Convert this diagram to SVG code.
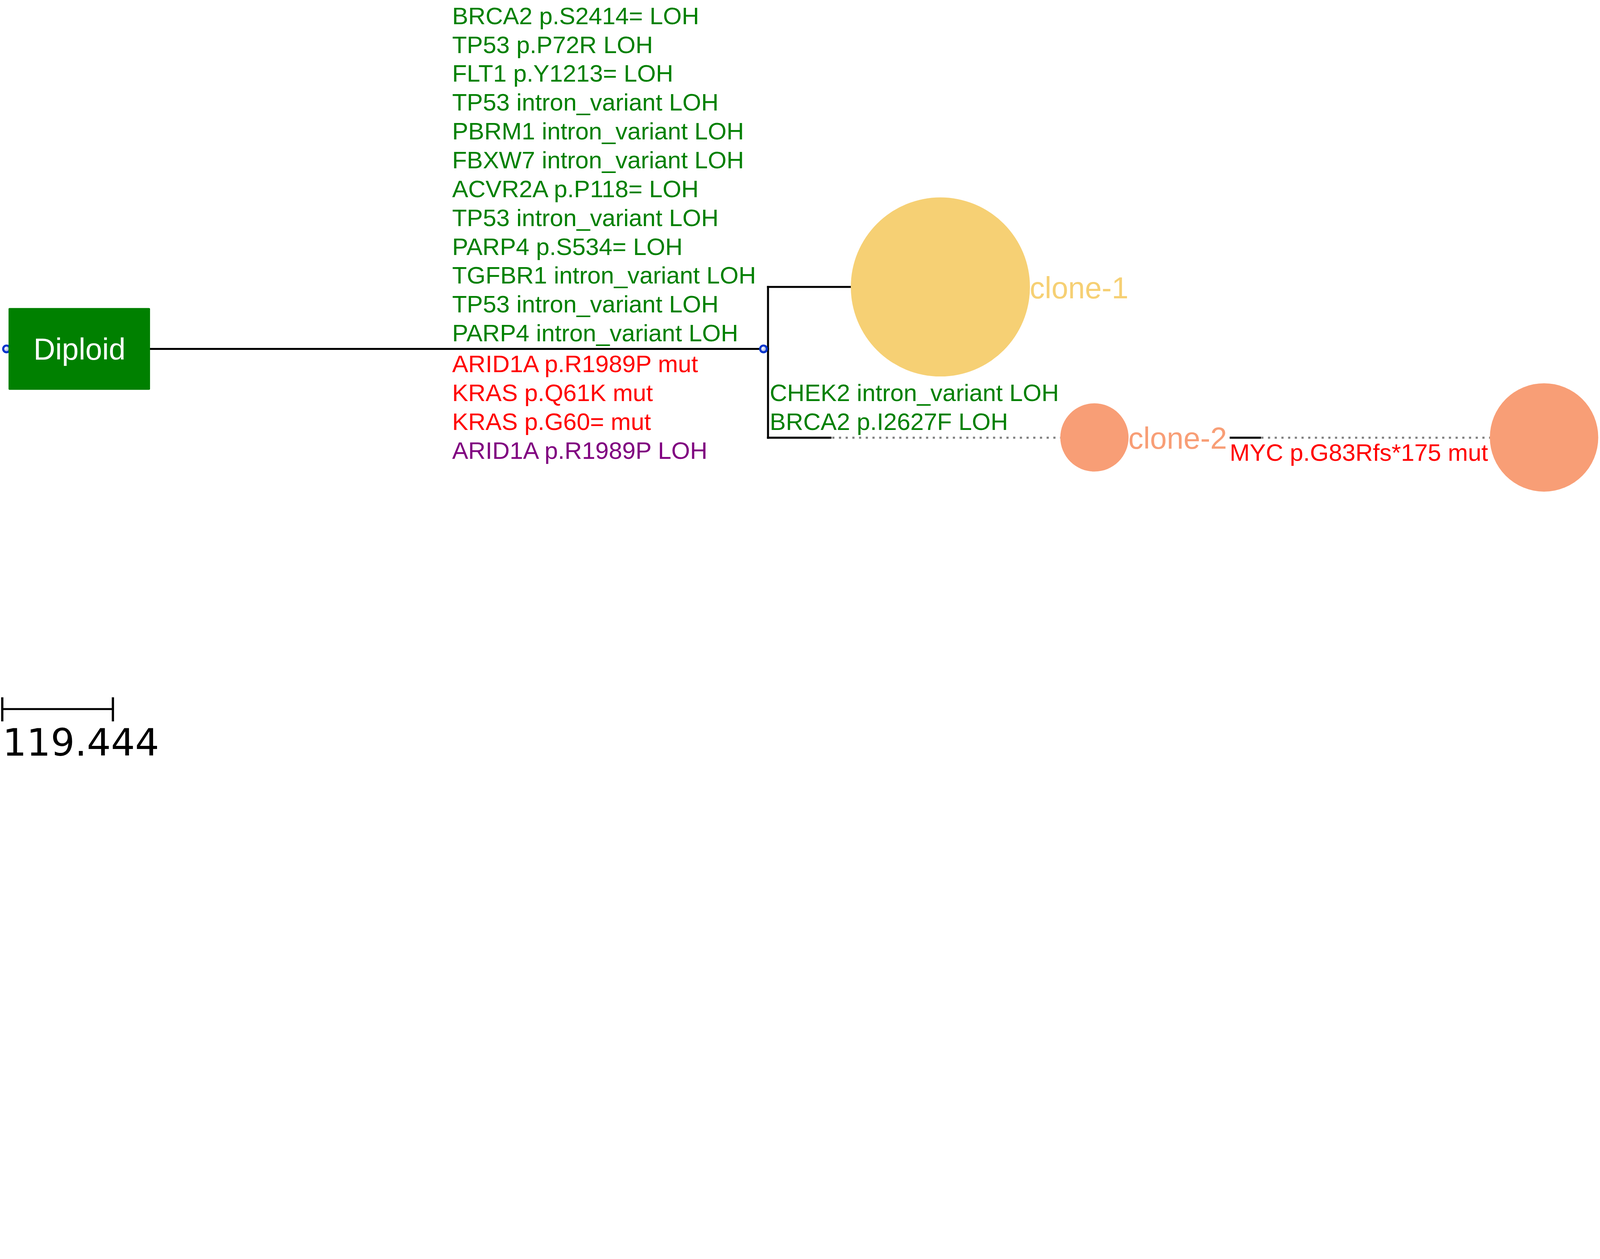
<svg xmlns="http://www.w3.org/2000/svg" width="6377" height="3224" viewBox="0 0 6377 3224" preserveAspectRatio="xMinYMin meet">
<style>
svg:root{width:100vw;height:100vh}
.lbl{font-family:"Liberation Sans",Arial,sans-serif;font-size:96px}
.g{fill:#008000}.r{fill:#ff0000}.p{fill:#800080}
.big{font-family:"Liberation Sans",Arial,sans-serif;font-size:120px}
.br{stroke:#000;stroke-width:8;fill:none;stroke-linecap:square}
.dot{stroke:#808080;stroke-width:8;fill:none;stroke-dasharray:8.7 18}
.knot{stroke:#0033cc;stroke-width:8}
</style>
<defs>
<radialGradient id="kg" cx="0.4" cy="0.4" r="0.6">
<stop offset="0" stop-color="#ffffff"/>
<stop offset="1" stop-color="#8090d8"/>
</radialGradient>
</defs>
<rect width="6377" height="3224" fill="#fff"/>
<g id="connectors">
<line class="br" x1="598" y1="1391" x2="3061" y2="1391"/>
<line class="br" x1="3061" y1="1144" x2="3061" y2="1745"/>
<line class="br" x1="3061" y1="1144" x2="3392" y2="1144"/>
<line class="br" x1="3061" y1="1745" x2="3310" y2="1745"/>
<line class="dot" x1="3317" y1="1745" x2="4226" y2="1745"/>
<line class="br" x1="4905" y1="1745" x2="5022" y2="1745"/>
<line class="dot" x1="5027" y1="1745" x2="5938" y2="1745"/>
<circle class="knot" cx="26" cy="1391" r="13.5" fill="url(#kg)"/>
<circle class="knot" cx="3043" cy="1391" r="13.5" fill="url(#kg)"/>
</g>
<g id="diploid">
<rect x="34" y="1228" width="564" height="326" rx="4" fill="#008000"/>
<text class="big" x="317" y="1434" fill="#fff" text-anchor="middle">Diploid</text>
</g>
<g id="root-mutations" class="lbl">
<text class="g" x="1802" y="96">BRCA2 p.S2414= LOH</text>
<text class="g" x="1802" y="211">TP53 p.P72R LOH</text>
<text class="g" x="1802" y="326">FLT1 p.Y1213= LOH</text>
<text class="g" x="1802" y="441">TP53 intron_variant LOH</text>
<text class="g" x="1802" y="556">PBRM1 intron_variant LOH</text>
<text class="g" x="1802" y="671">FBXW7 intron_variant LOH</text>
<text class="g" x="1802" y="786">ACVR2A p.P118= LOH</text>
<text class="g" x="1802" y="901">TP53 intron_variant LOH</text>
<text class="g" x="1802" y="1016">PARP4 p.S534= LOH</text>
<text class="g" x="1802" y="1131">TGFBR1 intron_variant LOH</text>
<text class="g" x="1802" y="1246">TP53 intron_variant LOH</text>
<text class="g" x="1802" y="1361">PARP4 intron_variant LOH</text>
<text class="r" x="1802" y="1484">ARID1A p.R1989P mut</text>
<text class="r" x="1802" y="1599">KRAS p.Q61K mut</text>
<text class="r" x="1802" y="1714">KRAS p.G60= mut</text>
<text class="p" x="1802" y="1829">ARID1A p.R1989P LOH</text>
</g>
<g id="clone-1">
<circle cx="3748" cy="1144" r="357" fill="#f6d074"/>
<text class="big" x="4104" y="1189" fill="#f6d074">clone-1</text>
</g>
<g id="clone-2-mutations" class="lbl">
<text class="g" x="3068" y="1599">CHEK2 intron_variant LOH</text>
<text class="g" x="3068" y="1714">BRCA2 p.I2627F LOH</text>
</g>
<g id="clone-2">
<circle cx="4362" cy="1744" r="136" fill="#f89e76"/>
<text class="big" x="4497" y="1789" fill="#f89e76">clone-2</text>
</g>
<g id="clone-3-mutations" class="lbl">
<text class="r" x="4901" y="1837">MYC p.G83Rfs*175 mut</text>
</g>
<g id="clone-3">
<circle cx="6154" cy="1744" r="216" fill="#f89e76"/>
</g>
<g id="scale">
<line x1="9" y1="2827" x2="450" y2="2827" stroke="#000" stroke-width="8"/>
<line x1="9" y1="2780" x2="9" y2="2876" stroke="#000" stroke-width="9"/>
<line x1="450" y1="2780" x2="450" y2="2876" stroke="#000" stroke-width="9"/>
<text x="10" y="3013" font-family="DejaVu Sans, sans-serif" font-size="151" fill="#000">119.444</text>
</g>
</svg>
